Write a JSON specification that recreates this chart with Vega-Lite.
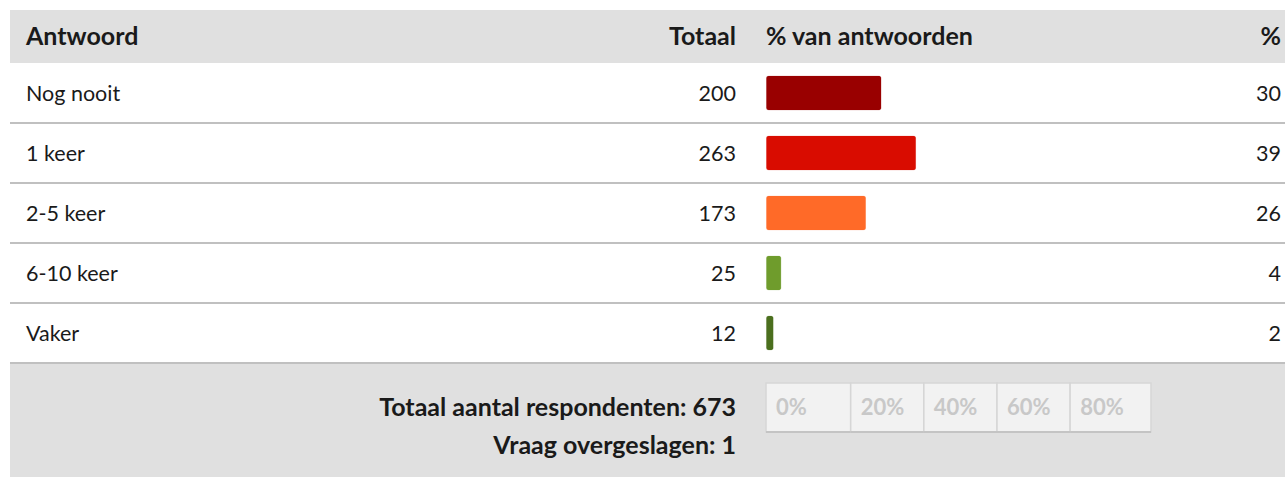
{
  "$schema": "https://vega.github.io/schema/vega-lite/v6.json",
  "padding": {"left": 9, "top": 10, "right": 0, "bottom": 0},
  "background": "white",
  "config": {"view": {"stroke": null}, "text": {"font": "Lato", "fontSize": 21.5, "color": "#1a1a1a"}},
  "spacing": 0,
  "datasets": {
    "rows": [
      {"Antwoord": "Nog nooit", "Totaal": 200, "pct": 30},
      {"Antwoord": "1 keer", "Totaal": 263, "pct": 39},
      {"Antwoord": "2-5 keer", "Totaal": 173, "pct": 26},
      {"Antwoord": "6-10 keer", "Totaal": 25, "pct": 4},
      {"Antwoord": "Vaker", "Totaal": 12, "pct": 2}
    ],
    "footer": [
      {"line": "a", "label": "Totaal aantal respondenten: 673"},
      {"line": "b", "label": "Vraag overgeslagen: 1"}
    ],
    "ticks": [
      {"lbl": "0%", "start": 0, "end": 22},
      {"lbl": "20%", "start": 22, "end": 41},
      {"lbl": "40%", "start": 41, "end": 60},
      {"lbl": "60%", "start": 60, "end": 79},
      {"lbl": "80%", "start": 79, "end": 100}
    ]
  },
  "vconcat": [
    {
      "width": 1276,
      "height": 53,
      "view": {"fill": "#e0e0e0", "stroke": null},
      "data": {"values": [{}]},
      "layer": [
        {"mark": {"type": "text", "text": "Antwoord", "align": "left", "fontWeight": "bold", "fontSize": 25, "baseline": "middle"}, "encoding": {"x": {"value": 16}}},
        {"mark": {"type": "text", "text": "Totaal", "align": "right", "fontWeight": "bold", "fontSize": 25, "baseline": "middle"}, "encoding": {"x": {"value": 726}}},
        {"mark": {"type": "text", "text": "% van antwoorden", "align": "left", "fontWeight": "bold", "fontSize": 25, "baseline": "middle"}, "encoding": {"x": {"value": 756}}},
        {"mark": {"type": "text", "text": "%", "align": "right", "fontWeight": "bold", "fontSize": 25, "baseline": "middle"}, "encoding": {"x": {"value": 1271}}}
      ]
    },
    {
      "width": 1276,
      "height": 301,
      "data": {"name": "rows"},
      "encoding": {
        "y": {"field": "Antwoord", "type": "nominal", "sort": null, "axis": null,
              "scale": {"range": [0, 300], "paddingInner": 0, "paddingOuter": 0}}
      },
      "layer": [
        {"mark": {"type": "rule", "stroke": "#c0c0c0", "strokeWidth": 2},
         "encoding": {"y": {"field": "Antwoord", "type": "nominal", "sort": null, "bandPosition": 1, "axis": null}}},
        {"mark": {"type": "bar", "height": 35, "cornerRadius": 3, "stroke": "#ffffff", "strokeOpacity": 0.35, "strokeWidth": 1},
         "encoding": {
           "x": {"field": "pct", "type": "quantitative", "axis": null, "scale": {"domain": [0, 100], "range": [756, 1141], "zero": true}},
           "color": {"field": "Antwoord", "type": "nominal", "legend": null,
                     "scale": {"domain": ["Nog nooit", "1 keer", "2-5 keer", "6-10 keer", "Vaker"],
                               "range": ["#990000", "#d90c00", "#ff6a28", "#6f9c2c", "#4b6f1e"]}}
         }},
        {"mark": {"type": "text", "align": "left", "baseline": "middle", "dy": 2},
         "encoding": {"x": {"value": 16}, "text": {"field": "Antwoord"}}},
        {"mark": {"type": "text", "align": "right", "baseline": "middle", "dy": 2},
         "encoding": {"x": {"value": 726}, "text": {"field": "Totaal"}}},
        {"mark": {"type": "text", "align": "right", "baseline": "middle", "dy": 2},
         "encoding": {"x": {"value": 1271}, "text": {"field": "pct"}}}
      ]
    },
    {
      "width": 1276,
      "height": 113,
      "view": {"fill": "#e0e0e0", "stroke": null},
      "layer": [
        {"data": {"name": "footer"},
         "mark": {"type": "text", "align": "right", "baseline": "middle", "fontWeight": "bold", "fontSize": 25},
         "encoding": {
           "x": {"value": 726},
           "y": {"field": "line", "type": "nominal", "axis": null, "scale": {"domain": ["a", "b"], "range": [25, 101], "paddingInner": 0, "paddingOuter": 0}},
           "text": {"field": "label"}
         }},
        {"data": {"name": "ticks"},
         "mark": {"type": "rect", "fill": "#f2f2f2", "stroke": "#d6d6d6", "strokeWidth": 1.5},
         "encoding": {
           "x": {"field": "start", "type": "quantitative", "axis": null, "scale": {"domain": [0, 100], "range": [756, 1141]}},
           "x2": {"field": "end"},
           "y": {"value": 19},
           "y2": {"value": 68}
         }},
        {"data": {"name": "ticks"},
         "mark": {"type": "rule", "stroke": "#c4c4c4", "strokeWidth": 2},
         "encoding": {
           "x": {"field": "start", "type": "quantitative", "axis": null, "scale": {"domain": [0, 100], "range": [756, 1141]}},
           "x2": {"field": "end"},
           "y": {"value": 68}
         }},
        {"data": {"name": "ticks"},
         "mark": {"type": "text", "align": "left", "baseline": "middle", "fontWeight": "bold", "fontSize": 22, "color": "#c8c8c8", "dx": 10, "dy": 1},
         "encoding": {
           "x": {"field": "start", "type": "quantitative", "axis": null, "scale": {"domain": [0, 100], "range": [756, 1141]}},
           "y": {"value": 43},
           "text": {"field": "lbl"}
         }}
      ]
    }
  ]
}
